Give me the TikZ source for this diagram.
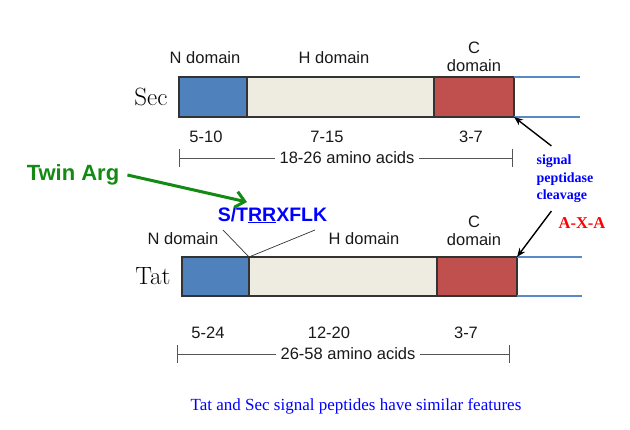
\documentclass[tikz,border=0pt]{standalone}
\usepackage{fontspec}
\setsansfont{Liberation Sans}
\newfontfamily\capserif{Liberation Serif}
\usetikzlibrary{arrows.meta}
\definecolor{nblue}{HTML}{4F81BD}
\definecolor{hbeige}{HTML}{EEECE1}
\definecolor{cred}{HTML}{C0504D}
\definecolor{boxline}{HTML}{333333}
\definecolor{tailblue}{HTML}{5A8AC6}
\definecolor{twingreen}{HTML}{138A13}
\definecolor{rangegray}{HTML}{555555}
\begin{document}
\begin{tikzpicture}[x=1pt,y=-1pt,
  dom/.style={draw=boxline, line width=1.2pt, inner sep=0pt, outer sep=0pt, minimum height=40pt},
  lbl/.style={font=\sffamily\fontsize{16.5}{18}\selectfont, inner sep=0pt, text=black!90, align=center},
  big/.style={font=\rmfamily\fontsize{25}{26}\selectfont, inner sep=0pt},
  tail/.style={draw=tailblue, line width=1.5pt},
  rangeline/.style={draw=rangegray, line width=0.9pt, {Bar[width=18pt]}-{Bar[width=18pt]}},
  rangetext/.style={lbl, fill=white, inner xsep=5pt, inner ysep=2pt},
  cleave/.style={draw=black, line width=1.4pt, -{Stealth[length=9pt,width=7pt]}},
  leader/.style={draw=black!80, line width=0.7pt},
  bluebold/.style={font=\capserif\bfseries\fontsize{14}{17.5}\selectfont, text=blue, inner sep=0pt, align=left}
]
\useasboundingbox (0,0) rectangle (630,430);

% ---------- Sec ----------
\node[dom, fill=nblue, minimum width=68pt] (sN) at (213,97) {};
\node[dom, fill=hbeige, minimum width=187pt] (sH) at (340.5,97) {};
\node[dom, fill=cred, minimum width=80pt] (sC) at (474,97) {};
\coordinate (sTa) at (580,77);
\coordinate (sTb) at (580,117);
\draw[tail] (sC.north east) -- (sTa);
\draw[tail] (sC.south east) -- (sTb);

\node[big] (sec) at (151,97) {Sec};
\node[lbl] (sNl) at (205,58) {N domain};
\node[lbl] (sHl) at (334,58) {H domain};
\node[lbl] (sCl) at (474,57) {C\\domain};
\node[lbl] (s1) at (206,137) {5-10};
\node[lbl] (s2) at (327,137) {7-15};
\node[lbl] (s3) at (471,137) {3-7};
\coordinate (sRL) at (179,158);
\coordinate (sRR) at (513,158);
\draw[rangeline] (sRL) -- (sRR);
\node[rangetext] (sRt) at (347,158) {18-26 amino acids};

% ---------- Tat ----------
\node[dom, fill=nblue, minimum width=67pt, minimum height=39pt] (tN) at (215.5,276.5) {};
\node[dom, fill=hbeige, minimum width=188pt, minimum height=39pt] (tH) at (343,276.5) {};
\node[dom, fill=cred, minimum width=80pt, minimum height=39pt] (tC) at (477,276.5) {};
\coordinate (tTa) at (582,257);
\coordinate (tTb) at (582,296);
\draw[tail] (tC.north east) -- (tTa);
\draw[tail] (tC.south east) -- (tTb);

\node[big] (tat) at (153,276) {Tat};
\node[lbl] (tNl) at (183,239) {N domain};
\node[lbl] (tHl) at (364,239) {H domain};
\node[lbl] (tCl) at (474,231) {C\\domain};
\node[lbl] (t1) at (208,333) {5-24};
\node[lbl] (t2) at (329,333) {12-20};
\node[lbl] (t3) at (466,333) {3-7};
\coordinate (tRL) at (177,354);
\coordinate (tRR) at (510,354);
\draw[rangeline] (tRL) -- (tRR);
\node[rangetext] (tRt) at (348,354) {26-58 amino acids};

% leader lines from N/H junction
\coordinate (ldA) at (223,230);
\coordinate (ldB) at (315,230);
\draw[leader] (tN.north east) -- (ldA);
\draw[leader] (tN.north east) -- (ldB);

% ---------- Twin Arg ----------
\node[font=\sffamily\bfseries\fontsize{22}{24}\selectfont, text=twingreen, inner sep=0pt] (twin) at (73,175) {Twin Arg};
\node[font=\sffamily\bfseries\fontsize{19.5}{22}\selectfont, text=blue, inner sep=0pt] (motif) at (272.5,215) {S/T\underline{RR}XFLK};
\coordinate (twinEnd) at (247,202);
\draw[draw=twingreen, line width=3pt, -{Straight Barb[length=9pt,width=16pt]}] (twin.east) ++(8,0) coordinate (twinStart) -- (twinEnd);

% ---------- cleavage ----------
\node[bluebold] (sig) at (565,179) {signal\\peptidase\\cleavage};
\node[font=\capserif\bfseries\fontsize{16.5}{18}\selectfont, text=red, inner sep=0pt] (axa) at (582,223) {A-X-A};
\draw[cleave] (sig.north west) ++(15,-9) coordinate (cA) -- (sC.south east);
\draw[cleave] (sig.south west) ++(15,8) coordinate (cB) -- (tC.north east);

% ---------- caption ----------
\node[font=\capserif\fontsize{17}{18}\selectfont, text=blue, inner sep=0pt] (cap) at (356,406) {Tat and Sec signal peptides have similar features};
\end{tikzpicture}
\end{document}
